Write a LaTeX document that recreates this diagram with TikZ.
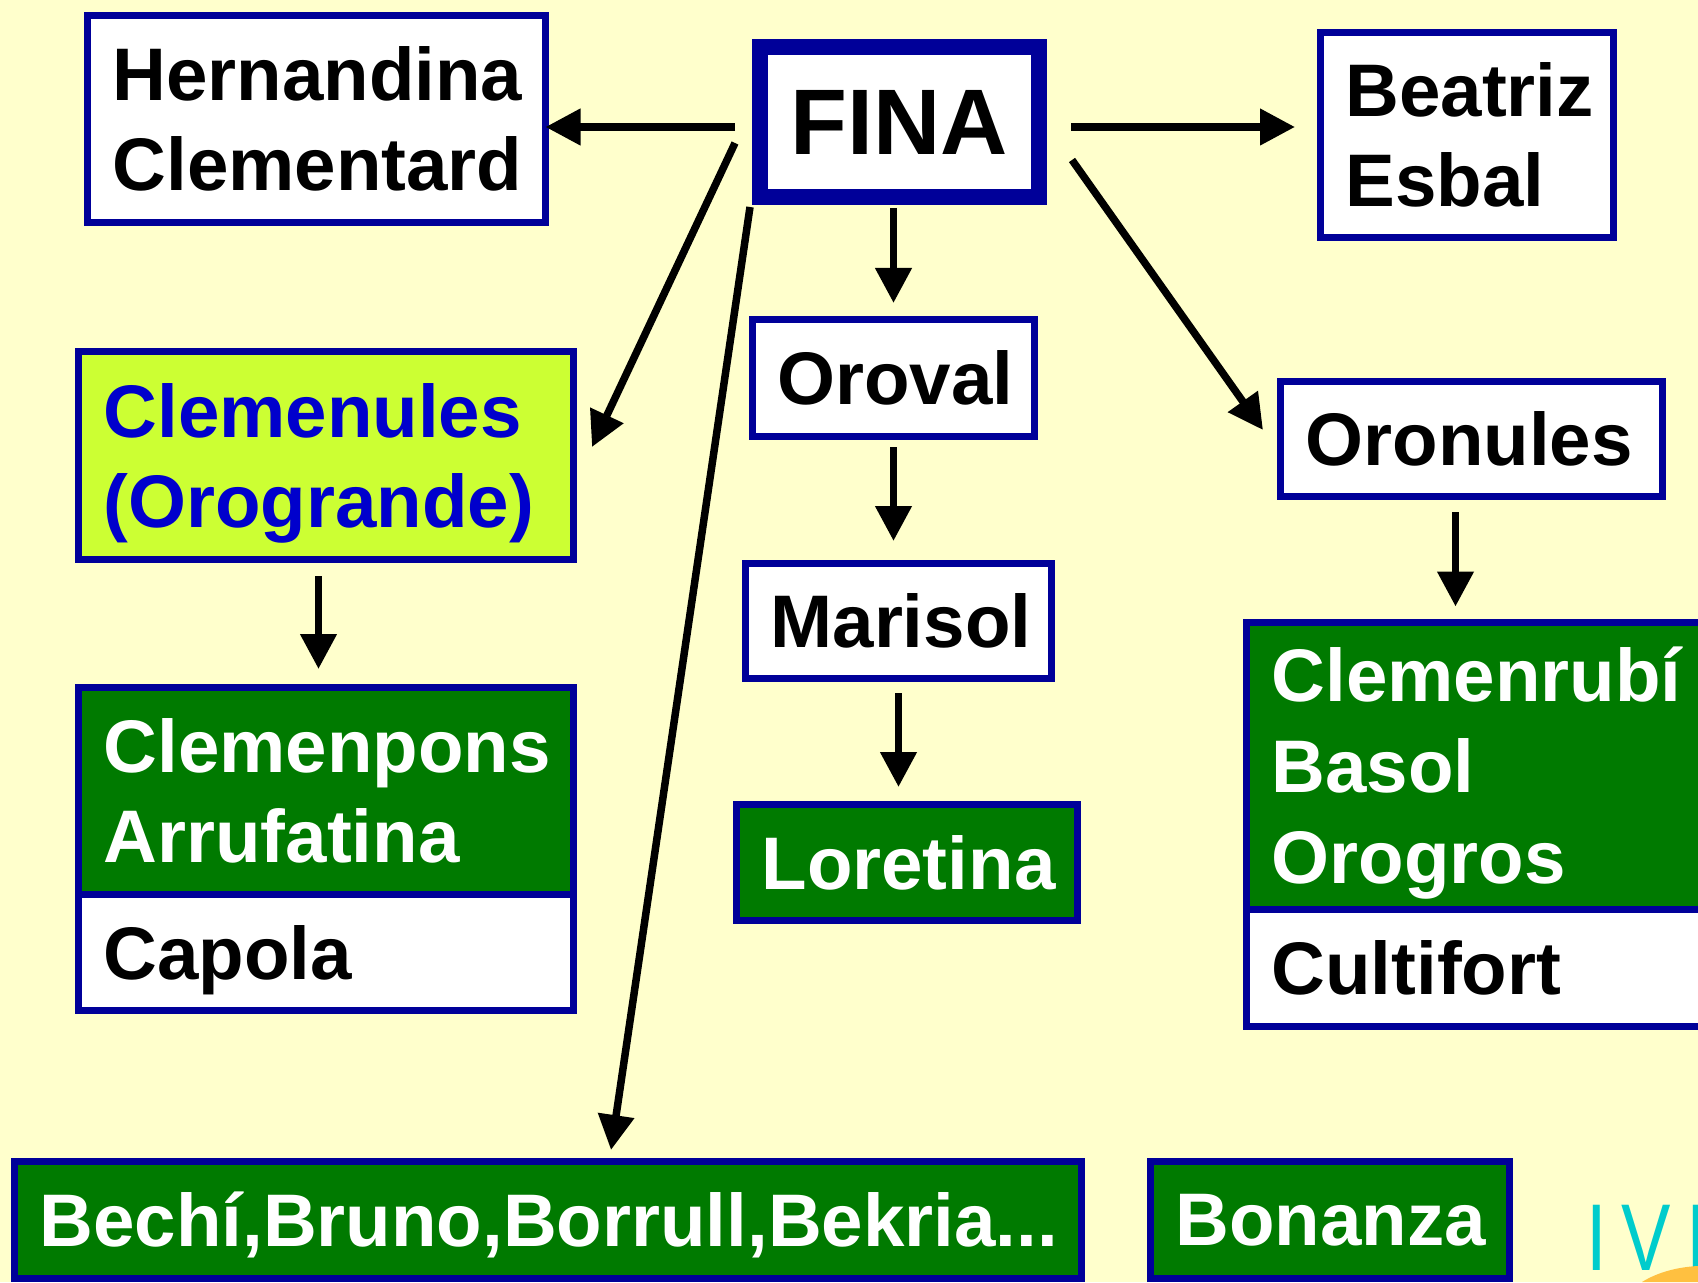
\documentclass[tikz,border=0pt]{standalone}
\usepackage{fontspec}
\setmainfont{Liberation Sans}
\usetikzlibrary{arrows.meta}
\definecolor{pagecream}{HTML}{FFFFCC}
\definecolor{frameblue}{HTML}{000099}
\definecolor{leafgreen}{HTML}{007A00}
\definecolor{limegreen}{HTML}{CCFF33}
\definecolor{inkblue}{HTML}{0000CC}
\definecolor{ivicyan}{HTML}{00CCCC}
\definecolor{iviorange}{HTML}{FFC040}
\hyphenpenalty=10000
\newcommand{\boxfont}{\fontsize{21.2}{25.8}\selectfont\bfseries}
\newcommand{\nodepth}[1]{\raisebox{0pt}[\height][0pt]{#1}}
\newcommand{\capline}[1]{\raisebox{0pt}[0.72em][\depth]{#1}}

\begin{document}
\begin{tikzpicture}[
  box/.style={draw=frameblue, line width=0.7mm, fill=white, text=black, rectangle,
    inner xsep=0.25cm, inner ysep=0pt, outer sep=0pt, align=left, font=\boxfont},
  greenbox/.style={box, fill=leafgreen, text=white},
  limebox/.style={box, fill=limegreen, text=inkblue},
  arr/.style={-{Triangle[length=3.5mm,width=3.5mm]}, line width=0.75mm},
]
  \path[use as bounding box, fill=pagecream] (0,0) rectangle (16.98,-12.82);
  \clip (0,0) rectangle (16.98,-12.82);

  \node[box, line width=1.6mm, align=center, inner sep=0pt, minimum width=2.79cm, minimum height=1.50cm, font=\fontsize{26.5}{30}\selectfont\bfseries] (fina) at (8.995,-1.22) {FINA};
  \node[box, text width=4.08cm, minimum height=2.07cm] (hern) at (3.165,-1.19) {Hernandina\\Clementard};
  \node[box, text width=2.43cm, minimum height=2.05cm] (beat) at (14.67,-1.35) {Beatriz\\Esbal};
  \node[limebox, text width=4.45cm, minimum height=2.08cm] (clem) at (3.26,-4.555) {Clemenules\\\nodepth{(Orogrande)}};
  \node[box, text width=2.32cm, minimum height=1.17cm] (oroval) at (8.935,-3.78) {Oroval};
  \node[box, text width=3.32cm, minimum height=1.15cm] (oronules) at (14.715,-4.39) {Oronules};
  \node[box, text width=2.56cm, minimum height=1.15cm] (marisol) at (8.985,-6.21) {Marisol};
  \node[greenbox, text width=2.91cm, minimum height=1.16cm] (loretina) at (9.07,-8.625) {Loretina};
  \node[greenbox, text width=4.45cm, minimum height=2.065cm] (clempons) at (3.26,-7.9075) {Clemenpons\\Arrufatina};
  \node[box, text width=4.45cm, minimum height=1.165cm, anchor=north] (capola) at (clempons.south) {\nodepth{Capola}};
  \node[greenbox, text width=4.335cm, minimum height=2.865cm] (clemrubi) at (14.8825,-7.6575) {\capline{Clemenrubí}\\Basol\\\nodepth{Orogros}};
  \node[box, text width=4.335cm, minimum height=1.175cm, anchor=north] (cultifort) at (clemrubi.south) {Cultifort};
  \node[greenbox, text width=10.17cm, minimum height=1.17cm] (bechi) at (5.48,-12.20) {\raisebox{0pt}[0.72em][0pt]{Bechí,Bruno,Borrull,Bekria...}};
  \node[greenbox, text width=3.09cm, minimum height=1.17cm] (bonanza) at (13.30,-12.20) {Bonanza};
  \node[anchor=base west, text=ivicyan, xscale=0.78, inner sep=0pt, font=\fontsize{27}{27}\selectfont] (ivi) at (15.86,-12.70) {I\kern0.2em V\kern0.2em I};
  \fill[iviorange] (16.42,-12.82) .. controls (16.58,-12.72) and (16.78,-12.67) .. (16.98,-12.66) -- (16.98,-12.82) -- cycle;

  % Draw the descent arrows
  \draw[arr, shorten <=2.5mm] ([yshift=-0.5mm]fina.west) -- ([yshift=-0.5mm]fina.west -| hern.east);
  \draw[arr, shorten <=3.2mm, shorten >=2.55mm] ([yshift=-0.5mm]fina.east) -- ([yshift=-0.5mm]fina.east -| beat.west);
  \draw[arr] ([shift={(-0.25,-0.21)}]fina.west) -- ([shift={(0.185,0.085)}]clem.east);
  \draw[arr] ([shift={(-0.10,-0.10)}]fina.south west) -- ([shift={(0.63,0.115)}]bechi.north);
  \draw[arr, shorten <=1.1mm, shorten >=1.65mm] (oroval.north |- fina.south) -- (oroval.north);
  \draw[arr, shorten <=1.05mm, shorten >=2.25mm] (oroval.south) -- (oroval.south |- marisol.north);
  \draw[arr, shorten <=1.45mm, shorten >=1.75mm] (marisol.south) -- (marisol.south |- loretina.north);
  \draw[arr] ([shift={(0.33,-0.38)}]fina.east) -- ([shift={(-0.175,0.09)}]oronules.west);
  \draw[arr, shorten <=1.55mm, shorten >=1.6mm] ([xshift=-1.6mm]oronules.south) -- ([xshift=-1.6mm]oronules.south |- clemrubi.north);
  \draw[arr, shorten <=1.65mm, shorten >=1.85mm] ([xshift=-0.75mm]clem.south) -- ([xshift=-0.75mm]clem.south |- clempons.north);
\end{tikzpicture}
\end{document}
